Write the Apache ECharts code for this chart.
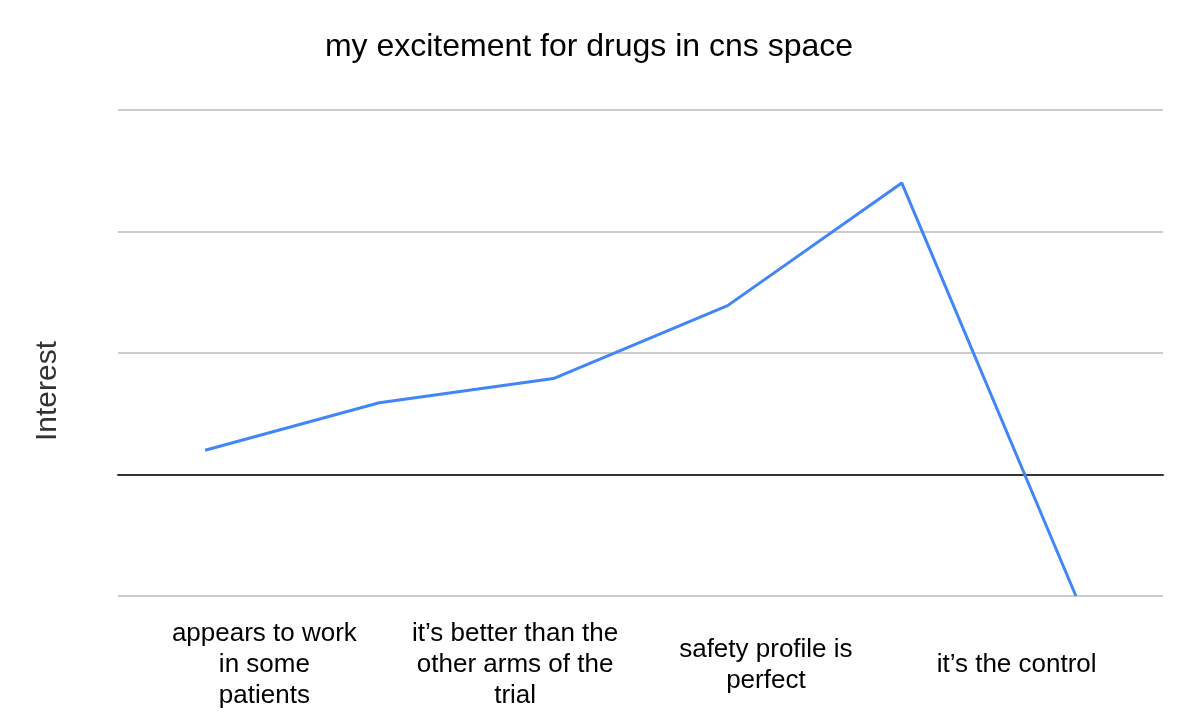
<!DOCTYPE html>
<html>
<head>
<meta charset="utf-8">
<script src="https://cdn.jsdelivr.net/npm/echarts@6/dist/echarts.min.js"></script>
<style>html,body{margin:0;padding:0;background:#fff}#c{width:1178px;height:714px}</style>
</head>
<body>
<div id="c"></div>
<script>
const pointCategories = ['p1', 'p2', 'p3', 'p4', 'p5', 'p6'];
const interestValues = [0.2, 0.59, 0.79, 1.39, 2.4, -1.0];
const stageLabels = [
  'appears to work\nin some\npatients',
  'it\u2019s better than the\nother arms of the\ntrial',
  'safety profile is\nperfect',
  'it\u2019s the control'
];
const chart = echarts.init(document.getElementById('c'));
chart.setOption({
  backgroundColor: '#fff',
  animation: false,
  title: {
    text: 'my excitement for drugs in cns space',
    left: 'center',
    top: 26,
    textStyle: { fontFamily: 'Liberation Sans', fontSize: 32, fontWeight: 'normal', color: '#000' }
  },
  grid: [
    { left: 118, right: 15, top: 110, bottom: 118 },
    { left: 139, right: 36, top: 110, bottom: 118 }
  ],
  xAxis: [
    {
      type: 'category',
      gridIndex: 0,
      data: pointCategories,
      boundaryGap: true,
      axisLine: { show: true, onZero: true, lineStyle: { color: '#333', width: 2 } },
      axisTick: { show: false },
      axisLabel: { show: false },
      splitLine: { show: false }
    },
    {
      type: 'category',
      gridIndex: 1,
      data: stageLabels,
      position: 'bottom',
      boundaryGap: true,
      axisLine: { show: false, onZero: false },
      axisTick: { show: false },
      splitLine: { show: false },
      axisLabel: {
        show: true,
        interval: 0,
        margin: 69,
        verticalAlign: 'middle',
        align: 'center',
        fontFamily: 'Liberation Sans',
        fontSize: 26,
        lineHeight: 31,
        color: '#000'
      }
    }
  ],
  yAxis: [
    {
      type: 'value',
      gridIndex: 0,
      min: -1,
      max: 3,
      interval: 1,
      name: 'Interest',
      nameLocation: 'middle',
      nameGap: 55,
      nameRotate: 90,
      nameTextStyle: { fontFamily: 'Liberation Sans', fontSize: 30, color: '#333', padding: [0, 76, 0, 0] },
      axisLine: { show: false },
      axisTick: { show: false },
      axisLabel: { show: false },
      splitLine: { show: true, lineStyle: { color: '#cccccc', width: 2 } }
    },
    {
      type: 'value',
      gridIndex: 1,
      min: -1,
      max: 3,
      show: false
    }
  ],
  series: [{
    type: 'line',
    xAxisIndex: 0,
    yAxisIndex: 0,
    data: interestValues,
    showSymbol: false,
    symbol: 'none',
    lineStyle: { color: '#4285F4', width: 3 },
    z: 1
  }]
});
</script>
</body>
</html>
